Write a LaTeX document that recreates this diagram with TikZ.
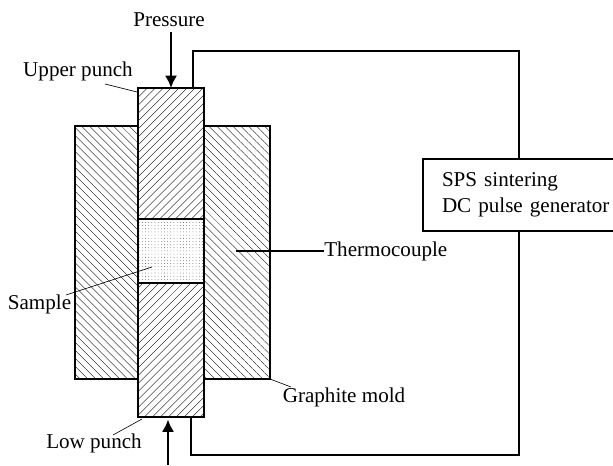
\documentclass[tikz,border=0pt]{standalone}
\usepackage{fontspec}
\setmainfont{Liberation Serif}
\usetikzlibrary{arrows.meta,patterns.meta}
\tikzset{
  part/.style={draw,line width=0.9pt,inner sep=0pt,outer sep=0pt},
  mold/.style={part,pattern={Lines[angle=-45,distance=3.2pt,line width=0.2pt]}},
  punch/.style={part,pattern={Lines[angle=45,distance=3.2pt,line width=0.2pt]}},
  powder/.style={part,pattern={Dots[distance=1.8pt,radius=0.18pt]}},
  wire/.style={line width=0.9pt},
  leader/.style={line width=0.35pt},
  force/.style={line width=1.6pt,-{Latex[length=7pt,width=7pt]}},
  label/.style={font=\fontsize{12}{14.7}\selectfont,inner sep=0pt}
}
\begin{document}
\begin{tikzpicture}
  \clip (0,0) rectangle (12.26,9.32);
  \useasboundingbox (0,0) rectangle (12.26,9.32);

  % Molde de grafito
  \node[mold,minimum width=1.26cm,minimum height=5.06cm] (moldleft) at (2.13,4.27) {};
  \node[mold,minimum width=1.32cm,minimum height=5.06cm] (moldright) at (4.74,4.27) {};

  % Punzones y muestra
  \node[punch,minimum width=1.32cm,minimum height=2.62cm] (upperpunch) at (3.42,6.25) {};
  \node[powder,minimum width=1.32cm,minimum height=1.28cm] (sample) at (3.42,4.30) {};
  \node[punch,minimum width=1.32cm,minimum height=2.68cm] (lowpunch) at (3.42,2.32) {};

  % Generador
  \node[part,label,anchor=west,text width=3.5cm,inner xsep=0.38cm,minimum height=1.44cm,align=left,fill=white] (generator) at (8.46,5.42) {SPS sintering\\DC pulse generator};

  % Puntos del circuito
  \coordinate (wirea) at (3.86,7.56);
  \coordinate (wireb) at (3.86,8.30);
  \coordinate (wirec) at (10.38,8.30);
  \coordinate (wired) at (10.38,6.14);
  \coordinate (wiree) at (10.38,4.70);
  \coordinate (wiref) at (10.38,0.22);
  \coordinate (wireg) at (3.82,0.22);
  \coordinate (wireh) at (3.82,0.98);
  \draw[wire] (wirea) -- (wireb) -- (wirec) -- (wired);
  \draw[wire] (wiree) -- (wiref) -- (wireg) -- (wireh);

  % Presion
  \node[label] (pressure) at (3.38,8.92) {Pressure};
  \draw[force] (pressure.south) ++(0.04,-0.10) coordinate (pressstart) (pressstart) -- (upperpunch.north);
  \coordinate (liftstart) at (3.36,0.02);
  \coordinate (liftend) at (3.36,0.93);
  \draw[force] (liftstart) -- (liftend);

  % Etiquetas
  \node[label] (upperlabel) at (1.56,7.90) {Upper punch};
  \node[label] (lowlabel) at (1.88,0.46) {Low punch};
  \node[label] (samplelabel) at (0.79,3.24) {Sample};
  \node[label,anchor=west] (thermolabel) at (6.48,4.30) {Thermocouple};
  \node[label] (moldlabel) at (6.88,1.38) {Graphite mold};

  % Lineas de referencia
  \coordinate (uppertip) at (2.74,7.48);
  \coordinate (uppertail) at (2.10,7.64);
  \coordinate (lowtip) at (2.84,0.94);
  \coordinate (lowtail) at (2.26,0.62);
  \coordinate (sampletip) at (3.04,3.98);
  \coordinate (sampletail) at (1.32,3.42);
  \coordinate (thermotip) at (4.72,4.30);
  \coordinate (moldtip) at (5.40,1.74);
  \coordinate (moldtail) at (5.82,1.58);
  \draw[leader] (uppertail) -- (uppertip);
  \draw[leader] (lowtail) -- (lowtip);
  \draw[leader] (sampletail) -- (sampletip);
  \draw[line width=0.6pt] (thermotip) -- (thermolabel.west);
  \draw[leader] (moldtail) -- (moldtip);
\end{tikzpicture}
\end{document}
